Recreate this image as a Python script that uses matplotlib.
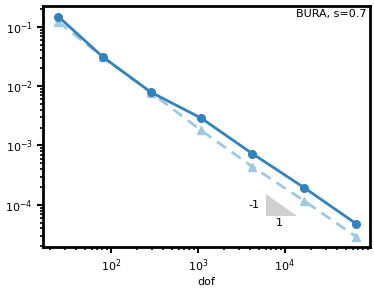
import numpy as np
import matplotlib.pyplot as plt

dof = [25, 81, 289, 1089, 4225, 16641, 66049]
err_bura = [0.148, 0.031, 0.0079, 0.0029, 7.3e-4, 1.95e-4, 4.8e-5]
err_ref = [0.121, 0.031, 0.0078, 0.0018, 4.4e-4, 1.17e-4, 2.9e-5]

dark = '#3182bd'
light = '#9ecae1'

fig, ax = plt.subplots(figsize=(3.74, 2.9), dpi=100)
ax.loglog(dof, err_bura, '-o', color=dark, lw=2, ms=5.5, zorder=3)
ax.loglog(dof, err_ref, '--^', color=light, lw=2, ms=5.5, dashes=(4, 2.5), zorder=2)

# slope triangle
tx = [6000, 6000, 13700]
ty = [1.5e-4, 6.5e-5, 6.5e-5]
ax.fill(tx, ty, color='#d0d0d0', lw=0, zorder=1)
ax.text(4400, 1.0e-4, '-1', fontsize=8, ha='center', va='center')
ax.text(8700, 5.0e-5, '1', fontsize=8, ha='center', va='center')

ax.text(0.99, 0.985, 'BURA, s=0.7', transform=ax.transAxes, fontsize=8,
        ha='right', va='top')

ax.set_xlim(16.6, 9.6e4)
ax.set_ylim(1.94e-5, 0.226)
ax.set_xlabel('dof', fontsize=8, labelpad=2)
ax.tick_params(labelsize=8)
ax.tick_params(which='major', length=4, width=1.5)
ax.tick_params(which='minor', length=2.5, width=1.2)
for s in ax.spines.values():
    s.set_linewidth(2)

fig.subplots_adjust(left=0.115, right=0.99, top=0.98, bottom=0.148)
fig.savefig('out.png', dpi=100)
